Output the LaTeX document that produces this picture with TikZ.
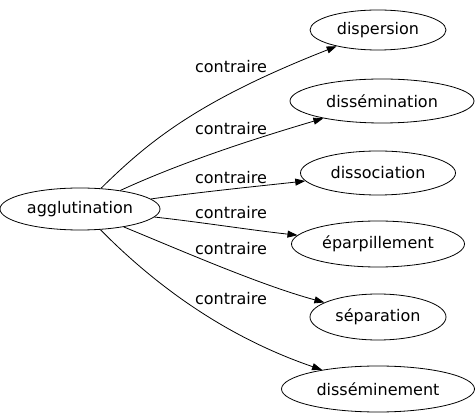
\documentclass[tikz,border=0pt]{standalone}
\usepackage{fontspec}
\setmainfont{DejaVu Sans}
\usetikzlibrary{shapes.geometric,arrows.meta}
\begin{document}
\begin{tikzpicture}[x=1pt,y=-1pt,
  word/.style={draw,ellipse,inner sep=0pt,minimum height=42pt,font=\fontsize{16}{19}\selectfont,line width=0.8pt},
  lbl/.style={inner sep=0pt,font=\fontsize{16}{19}\selectfont},
  rel/.style={draw,line width=0.8pt,-{Triangle[length=10pt,width=7pt]}}]
\useasboundingbox (0,0) rectangle (476,419);
\node[word,minimum width=160pt] (src) at (80,209) {agglutination};
\node[word,minimum width=136pt,minimum height=40pt] (t1) at (378,30) {dispersion};
\node[word,minimum width=184pt,minimum height=44pt] (t2) at (382,101) {dissémination};
\node[word,minimum width=155pt,minimum height=44pt] (t3) at (378,173) {dissociation};
\node[word,minimum width=173pt,minimum height=46pt] (t4) at (378,244) {éparpillement};
\node[word,minimum width=136pt,minimum height=46pt] (t5) at (378,317) {séparation};
\node[word,minimum width=193pt,minimum height=46pt] (t6) at (378,389) {disséminement};
\draw[rel] (src) .. controls (150,140) and (200,100) .. (t1);
\draw[rel] (src) .. controls (180,163) and (250,140) .. (t2);
\draw[rel] (src) .. controls (200,192) and (260,186) .. (t3);
\draw[rel] (src) .. controls (200,222) and (250,230) .. (t4);
\draw[rel] (src) .. controls (180,250) and (260,285) .. (t5);
\draw[rel] (src) .. controls (150,280) and (220,335) .. (t6);
\node[lbl] (l1) at (231,67) {contraire};
\node[lbl] (l2) at (231,129) {contraire};
\node[lbl] (l3) at (231,178) {contraire};
\node[lbl] (l4) at (231,213) {contraire};
\node[lbl] (l5) at (231,249) {contraire};
\node[lbl] (l6) at (231,299) {contraire};
\end{tikzpicture}
\end{document}
